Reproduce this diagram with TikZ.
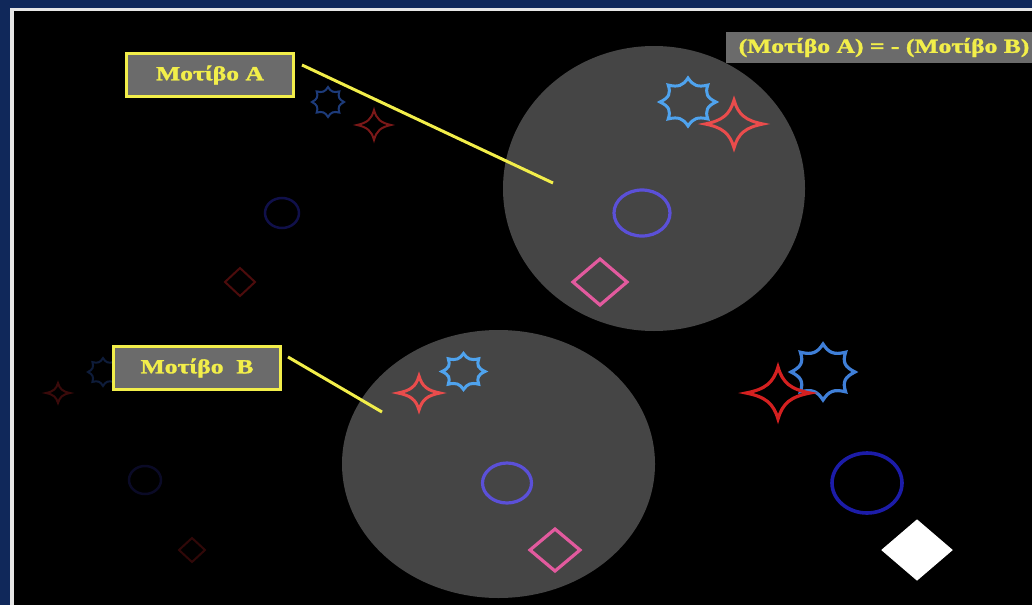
\documentclass[tikz,border=0pt]{standalone}
\usepackage{fontspec}
\newfontfamily\labfont[FakeStretch=1.28, FakeBold=1.6]{Liberation Serif Bold}
\definecolor{navy}{HTML}{10285A}
\definecolor{frameline}{HTML}{E6E6E6}
\definecolor{disc}{HTML}{454545}
\definecolor{boxgrey}{HTML}{6B6B6B}
\definecolor{ylw}{HTML}{F2EE4A}
\definecolor{lblue}{HTML}{4FA3EE}
\definecolor{lred}{HTML}{EA4C4C}
\definecolor{lpurple}{HTML}{5B50D8}
\definecolor{lpink}{HTML}{E25A9E}
\definecolor{rblue}{HTML}{3F7FD8}
\definecolor{rred}{HTML}{D42020}
\definecolor{rcirc}{HTML}{1C1CA8}
\definecolor{tblue}{HTML}{1D3B7A}
\definecolor{tred}{HTML}{7A1818}
\definecolor{tcirc}{HTML}{10104A}
\definecolor{tdiam}{HTML}{4C0C0C}
\definecolor{fblue}{HTML}{0E1C3A}
\definecolor{fred}{HTML}{3A0A0A}
\definecolor{fcirc}{HTML}{0A0A26}
\definecolor{fdiam}{HTML}{300808}
\begin{document}
\begin{tikzpicture}[x=1pt,y=-1pt,
  lbl/.style={fill=boxgrey, draw=ylw, line width=3pt, minimum width=167pt, minimum height=43pt,
    inner sep=0pt, text=ylw, font=\labfont\fontsize{20}{24}\selectfont},
  toplbl/.style={fill=boxgrey, minimum width=316pt, minimum height=31pt, inner sep=0pt,
    text=ylw, font=\labfont\fontsize{20}{24}\selectfont},
  conn/.style={draw=ylw, line width=3pt},
  pics/star8/.style={code={
    \draw[pic actions] (90:1) \foreach \k in {0,...,7}{ .. controls ({105+45*\k}:0.7) and ({120+45*\k}:0.7) .. ({135+45*\k}:1) } -- cycle;}},
  pics/star4/.style={code={
    \draw[pic actions] (0:1) \foreach \k in {0,...,3}{ .. controls ({20+90*\k}:0.42) and ({70+90*\k}:0.42) .. ({90+90*\k}:1) } -- cycle;}},
  pics/diam/.style={code={
    \draw[pic actions] (1,0) -- (0,1) -- (-1,0) -- (0,-1) -- cycle;}},
  pics/ring/.style={code={
    \draw[pic actions] (0,0) circle [radius=1];}}
]
\useasboundingbox (0,0) rectangle (1032,605);
% frame
\fill[navy] (0,0) rectangle (1032,605);
\fill[frameline] (10,8) rectangle (1032,605);
\fill[black] (14,11) rectangle (1032,605);

% faint trail, lower
\pic[draw=fblue, line width=2pt, xscale=15, yscale=14] at (103,372) {star8};
\pic[draw=fred, line width=2pt, xscale=12, yscale=10] at (58,393) {star4};
\pic[draw=fcirc, line width=2.5pt, xscale=16, yscale=14] at (145,480) {ring};
\pic[draw=fdiam, line width=2pt, xscale=13, yscale=12] at (192,550) {diam};
% faint trail, upper
\pic[draw=tblue, line width=2pt, xscale=16, yscale=15] at (328,102) {star8};
\pic[draw=tred, line width=2pt, xscale=17, yscale=15] at (374,125) {star4};
\pic[draw=tcirc, line width=2.5pt, xscale=17, yscale=15] at (282,213) {ring};
\pic[draw=tdiam, line width=2pt, xscale=15, yscale=14] at (240,282) {diam};

% discs
\fill[disc] (654,188.5) ellipse [x radius=151pt, y radius=142.5pt];
\fill[disc] (498.5,464) ellipse [x radius=156.5pt, y radius=134pt];

% shapes in disc A
\pic[draw=lblue, line width=3pt, xscale=28, yscale=24] at (688,102) {star8};
\pic[draw=lred, line width=3pt, xscale=29, yscale=24] at (734,124) {star4};
\pic[draw=lpurple, line width=3.2pt, xscale=28, yscale=23] at (642,213) {ring};
\pic[draw=lpink, line width=3.2pt, xscale=27, yscale=23] at (600,282) {diam};
% shapes in disc B
\pic[draw=lblue, line width=3pt, xscale=21.5, yscale=18] at (463.5,371.5) {star8};
\pic[draw=lred, line width=3pt, xscale=21, yscale=17] at (419,393) {star4};
\pic[draw=lpurple, line width=3.2pt, xscale=24.5, yscale=20] at (507,483) {ring};
\pic[draw=lpink, line width=3.2pt, xscale=25, yscale=21] at (555,550) {diam};
% shapes at right
\pic[draw=rblue, line width=3.2pt, xscale=32, yscale=28] at (823,372) {star8};
\pic[draw=rred, line width=3.2pt, xscale=32, yscale=26] at (778,393) {star4};
\pic[draw=rcirc, line width=3.6pt, xscale=35, yscale=30] at (867,483) {ring};
\pic[draw=white, fill=white, line width=1pt, xscale=35, yscale=30] at (917,550) {diam};

% labels
\node[lbl] (la) at (210,75) {Μοτίβο A};
\node[lbl] (lb) at (197,368) {Μοτίβο\ \ B};
\node[toplbl] (eq) at (884,47.5) {(Μοτίβο A) = - (Μοτίβο B)};

% connectors
\coordinate (a1) at (302,65);
\coordinate (a2) at (553,183);
\coordinate (b1) at (288,357);
\coordinate (b2) at (382,412);
\draw[conn] (a1) -- (a2);
\draw[conn] (b1) -- (b2);
\end{tikzpicture}
\end{document}
